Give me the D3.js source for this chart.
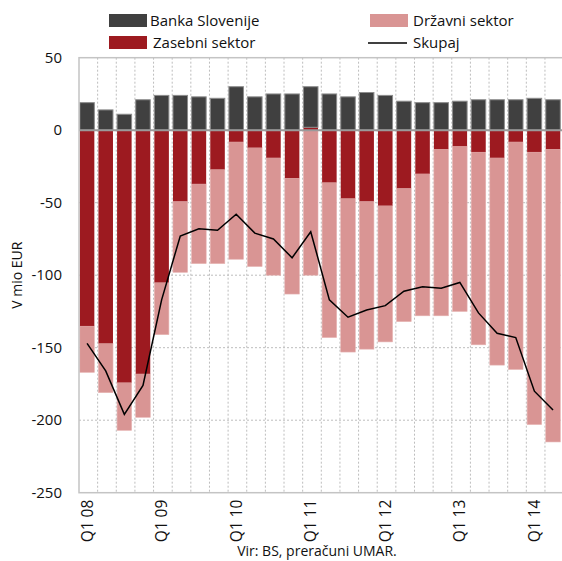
<!DOCTYPE html>
<html><head><meta charset="utf-8">
<script src="https://cdn.jsdelivr.net/npm/d3@7"></script>
<style>body{margin:0;background:#fff}svg{display:block}text{font-family:"Open Sans","Noto Sans",sans-serif;fill:#111}</style>
</head><body><svg id="c" width="562" height="561"></svg>
<script>
const quarters = ["Q1 08","Q2 08","Q3 08","Q4 08","Q1 09","Q2 09","Q3 09","Q4 09","Q1 10","Q2 10","Q3 10","Q4 10","Q1 11","Q2 11","Q3 11","Q4 11","Q1 12","Q2 12","Q3 12","Q4 12","Q1 13","Q2 13","Q3 13","Q4 13","Q1 14","Q2 14"];
const banka = [19,14,11,21,24,24,23,22,30,23,25,25,28,25,23,26,24,20,19,19,20,21,21,21,22,21];
const zasebni = [-135,-147,-174,-168,-105,-49,-37,-27,-8,-12,-19,-33,2,-36,-47,-49,-52,-40,-30,-13,-11,-15,-19,-8,-15,-13];
const drzavni = [-32,-34,-33,-30,-36,-49,-55,-65,-81,-82,-81,-80,-100,-107,-106,-102,-94,-92,-98,-115,-114,-133,-143,-157,-188,-202];
const skupaj = [-147,-166,-196,-176,-117,-73,-68,-69,-58,-71,-75,-88,-70,-117,-129,-124,-121,-111,-108,-109,-105,-126,-140,-143,-180,-193];
const yTicks = [50,0,-50,-100,-150,-200,-250];
const xTickLabels = ["Q1 08","Q1 09","Q1 10","Q1 11","Q1 12","Q1 13","Q1 14"];
const seriesNames = ["Banka Slovenije","Zasebni sektor","Državni sektor","Skupaj"];
const colors = {banka:"#404040", zasebni:"#9d1a20", drzavni:"#d99594"};

(function(){
const svg = d3.select("#c");
const pL = 79, pR = 563.6, pT = 57.7, pB = 492.7;
const x = d3.scaleBand().domain(quarters).range([pL, pR]).paddingInner(0).paddingOuter(0);
const y = d3.scaleLinear().domain([-250, 50]).range([pB, pT]);
const bw = x.bandwidth() * 0.78;

// gridlines
const grid = svg.append("g");
yTicks.filter(v => v !== 0 && v !== 50 && v !== -250).forEach(v => {
  grid.append("line").attr("x1", pL).attr("x2", pR).attr("y1", y(v)).attr("y2", y(v))
    .attr("stroke", "#bdbdbd").attr("stroke-width", 1).attr("stroke-dasharray", "2,2");
});
quarters.forEach((q, i) => {
  if (i === 0) return;
  grid.append("line").attr("x1", x(q)).attr("x2", x(q)).attr("y1", pT).attr("y2", pB)
    .attr("stroke", "#bdbdbd").attr("stroke-width", 1).attr("stroke-dasharray", "2,2");
});

// bars
const bars = svg.append("g");
quarters.forEach((q, i) => {
  const z = zasebni[i], b = banka[i], d = drzavni[i];
  const posBase = Math.max(z, 0);
  const negBase = Math.min(z, 0);
  const bx = x(q) + 0.8;
  bars.append("rect").attr("x", bx).attr("width", bw)
    .attr("y", y(negBase)).attr("height", y(negBase + d) - y(negBase))
    .attr("fill", colors.drzavni).attr("stroke", "#e6b3b2").attr("stroke-width", 0.6);
  bars.append("rect").attr("x", bx).attr("width", bw)
    .attr("y", y(Math.max(z, 0))).attr("height", Math.abs(y(z) - y(0)))
    .attr("fill", colors.zasebni);
  bars.append("rect").attr("x", bx).attr("width", bw)
    .attr("y", y(posBase + b)).attr("height", y(posBase) - y(posBase + b))
    .attr("fill", colors.banka).attr("stroke", "#8c8c8c").attr("stroke-width", 1);
});

// zero line
svg.append("line").attr("x1", pL).attr("x2", pR).attr("y1", y(0)).attr("y2", y(0))
  .attr("stroke", "#9a9a9a").attr("stroke-width", 2);

// skupaj line
const line = d3.line().x((d, i) => x(quarters[i]) + 0.8 + bw / 2).y(d => y(d));
svg.append("path").datum(skupaj).attr("d", line).attr("fill", "none")
  .attr("stroke", "#000").attr("stroke-width", 1.5);

// frame
svg.append("rect").attr("x", pL).attr("y", pT).attr("width", pR - pL).attr("height", pB - pT)
  .attr("fill", "none").attr("stroke", "#c4c4c4").attr("stroke-width", 1.5);

// y axis labels
yTicks.forEach(v => {
  svg.append("text").attr("x", 62).attr("y", y(v)).attr("dy", "0.35em")
    .attr("text-anchor", "end").attr("font-size", 15).text(v);
});
svg.append("text").attr("transform", `translate(22,${(pT + pB) / 2}) rotate(-90)`)
  .attr("text-anchor", "middle").attr("font-size", 14).text("V mio EUR");

// x labels
xTickLabels.forEach(lbl => {
  const cx = x(lbl) + 0.8 + bw / 2;
  svg.append("text").attr("transform", `translate(${cx + 5.5},${pB + 7}) rotate(-90)`)
    .attr("text-anchor", "end").attr("font-size", 15.5).text(lbl);
});

svg.append("text").attr("x", 317).attr("y", 556).attr("text-anchor", "middle")
  .attr("font-size", 14).text("Vir: BS, preračuni UMAR.");

// legend
const lg = svg.append("g");
lg.append("rect").attr("x", 109).attr("y", 14).attr("width", 38).attr("height", 13).attr("fill", colors.banka);
lg.append("text").attr("x", 150).attr("y", 21).attr("dy", "0.35em").attr("font-size", 15).text(seriesNames[0]);
lg.append("rect").attr("x", 109).attr("y", 36).attr("width", 38).attr("height", 13).attr("fill", colors.zasebni);
lg.append("text").attr("x", 153).attr("y", 43).attr("dy", "0.35em").attr("font-size", 15).text(seriesNames[1]);
lg.append("rect").attr("x", 370).attr("y", 14).attr("width", 38).attr("height", 13).attr("fill", colors.drzavni);
lg.append("text").attr("x", 413).attr("y", 21).attr("dy", "0.35em").attr("font-size", 15).text(seriesNames[2]);
lg.append("line").attr("x1", 368).attr("x2", 407).attr("y1", 43).attr("y2", 43).attr("stroke", "#000").attr("stroke-width", 1.5);
lg.append("text").attr("x", 413).attr("y", 43).attr("dy", "0.35em").attr("font-size", 15).text(seriesNames[3]);
})();
</script></body></html>
